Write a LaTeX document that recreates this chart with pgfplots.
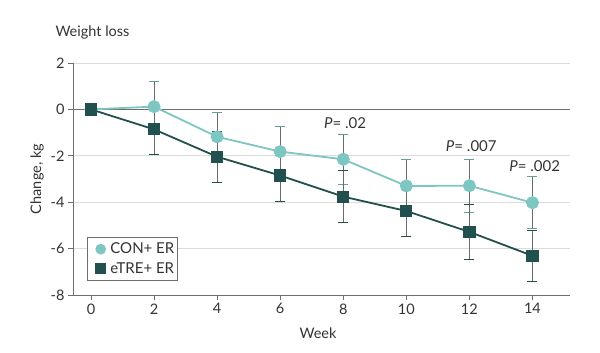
\documentclass[border=0pt]{standalone}
\usepackage{fontspec}
\setmainfont{Lato}
\usepackage{pgfplots}
\pgfplotsset{compat=1.18}
\definecolor{con}{HTML}{7EC6C1}
\definecolor{etre}{HTML}{22504E}
\definecolor{txt}{HTML}{333333}
\definecolor{axisgray}{HTML}{6E6E6E}
\definecolor{gridgray}{HTML}{DCDCDC}
\definecolor{errgray}{HTML}{6A6A6A}
\begin{document}
\begin{tikzpicture}[x=1pt,y=1pt]
\useasboundingbox (0,0) rectangle (600,353);
\node[anchor=west, text=txt, font=\fontsize{14.5}{16}\selectfont] at (52,321) {Weight loss};
\begin{axis}[
  at={(73pt,58pt)}, anchor=south west,
  scale only axis, width=497pt, height=232pt,
  xmin=-0.57, xmax=15.19, ymin=-8, ymax=2,
  xtick={0,2,...,14}, ytick={-8,-6,...,2},
  axis x line*=bottom, axis y line*=left,
  axis line style={axisgray, line width=0.9pt},
  x axis line style={-}, y axis line style={-},
  tick style={axisgray, line width=0.8pt},
  tick align=outside, major tick length=5pt,
  ymajorgrids, grid style={gridgray, line width=0.9pt},
  tick label style={text=txt, font=\fontsize{14.5}{16}\selectfont},
  /pgf/number format/assume math mode=true,
  xlabel={Week}, ylabel={Change, kg},
  label style={text=txt, font=\fontsize{14.5}{16}\selectfont},
  xlabel style={at={(axis description cs:0.493,-0.164)}, anchor=center},
  ylabel style={at={(axis description cs:-0.072,0.5)}, anchor=center},
  legend style={at={(0,0)}, anchor=south west, xshift=14pt, yshift=14pt,
    draw=axisgray, line width=0.8pt, font=\fontsize{15}{17}\selectfont, text=txt,
    inner xsep=1pt, inner ysep=4pt, row sep=3pt},
  legend cell align=left,
  legend image code/.code={\path (0,0) (0.64cm,0);\draw[#1, mark repeat=1, mark size=4.4pt] plot coordinates {(0.4cm,0cm)};},
  clip=false,
]
\draw[axisgray, line width=0.9pt] (axis cs:-0.57,0) -- (axis cs:15.19,0);
\addplot[con, line width=1.8pt, mark=*, mark size=5.6pt, mark options={solid, fill=con, draw=con},
  error bars/.cd, y dir=both, y explicit,
  error bar style={errgray, line width=0.8pt},
  error mark options={rotate=90, mark size=5pt, con!80!black, line width=1pt}]
  coordinates {
  (0,0) +- (0,0)
  (2,0.12) +- (0,1.09)
  (4,-1.18) +- (0,1.04)
  (6,-1.82) +- (0,1.07)
  (8,-2.15) +- (0,1.08)
  (10,-3.30) +- (0,1.15)
  (12,-3.29) +- (0,1.14)
  (14,-4.02) +- (0,1.13)
  };
\addlegendentry{CON+ ER}
\addplot[etre, line width=1.8pt, mark=square*, mark size=5.2pt, mark options={solid, fill=etre, draw=etre},
  error bars/.cd, y dir=both, y explicit,
  error bar style={errgray, line width=0.8pt},
  error mark options={rotate=90, mark size=5pt, etre, line width=1pt}]
  coordinates {
  (0,0) +- (0,0)
  (2,-0.86) +- (0,1.09)
  (4,-2.04) +- (0,1.10)
  (6,-2.85) +- (0,1.14)
  (8,-3.76) +- (0,1.12)
  (10,-4.38) +- (0,1.11)
  (12,-5.28) +- (0,1.17)
  (14,-6.31) +- (0,1.11)
  };
\addlegendentry{eTRE+ ER}
\node[text=txt, font=\fontsize{15}{17}\selectfont] at (axis cs:8.06,-0.6) {\textit{P}= .02};
\node[text=txt, font=\fontsize{15}{17}\selectfont] at (axis cs:12.06,-1.6) {\textit{P}= .007};
\node[text=txt, font=\fontsize{15}{17}\selectfont] at (axis cs:14.07,-2.44) {\textit{P}= .002};
\end{axis}
\end{tikzpicture}
\end{document}
